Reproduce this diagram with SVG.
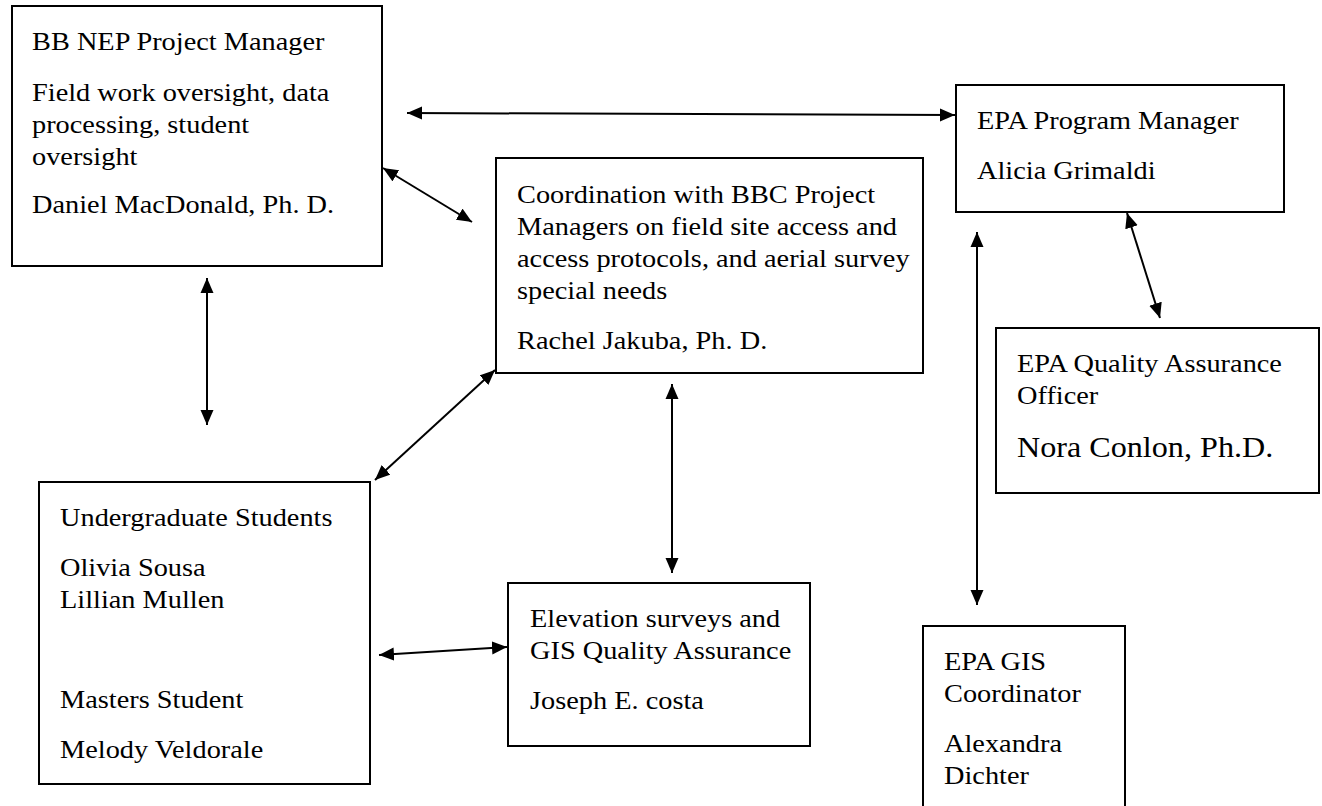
<svg xmlns="http://www.w3.org/2000/svg" width="1322" height="806" viewBox="0 0 1322 806">
<defs>
<style>
.box{fill:#fff;stroke:#000;stroke-width:2}
.t{font-family:"Liberation Serif","Times New Roman",serif;font-size:26px;fill:#000}
.big{font-size:29.5px}
.c{stroke:#000;stroke-width:2;fill:none;marker-start:url(#ah);marker-end:url(#ah)}
</style>
<marker id="ah" markerUnits="userSpaceOnUse" markerWidth="16" markerHeight="14" refX="15" refY="6.5" orient="auto-start-reverse" viewBox="0 0 16 13">
<path d="M0,0 L15,6.5 L0,13 z" fill="#000"/>
</marker>
</defs>
<rect width="1322" height="806" fill="#fff"/>

<g id="connectors">
<line class="c" x1="407" y1="113" x2="955" y2="115"/>
<line class="c" x1="383" y1="168" x2="472" y2="222"/>
<line class="c" x1="207" y1="278" x2="207" y2="425"/>
<line class="c" x1="495" y1="370" x2="375" y2="480"/>
<line class="c" x1="672" y1="384" x2="672" y2="573"/>
<line class="c" x1="379" y1="655" x2="507" y2="647"/>
<line class="c" x1="1127" y1="213" x2="1160" y2="318"/>
<line class="c" x1="977" y1="232" x2="977" y2="605"/>
</g>

<g id="bbnep">
<rect class="box" x="12" y="6" width="370" height="260"/>
<g transform="translate(32 0) scale(1.09 1)">
<text class="t" x="0" y="50">BB NEP Project Manager</text>
<text class="t" x="0" y="101">Field work oversight, data</text>
<text class="t" x="0" y="133">processing, student</text>
<text class="t" x="0" y="165">oversight</text>
<text class="t" x="0" y="213">Daniel MacDonald, Ph. D.</text>
</g>
</g>

<g id="coordination">
<rect class="box" x="496" y="158" width="427" height="215"/>
<g transform="translate(517 0) scale(1.09 1)">
<text class="t" x="0" y="203">Coordination with BBC Project</text>
<text class="t" x="0" y="235">Managers on field site access and</text>
<text class="t" x="0" y="267">access protocols, and aerial survey</text>
<text class="t" x="0" y="299">special needs</text>
<text class="t" x="0" y="349">Rachel Jakuba, Ph. D.</text>
</g>
</g>

<g id="epa-pm">
<rect class="box" x="956" y="85" width="328" height="127"/>
<g transform="translate(977 0) scale(1.09 1)">
<text class="t" x="0" y="129">EPA Program Manager</text>
<text class="t" x="0" y="179">Alicia Grimaldi</text>
</g>
</g>

<g id="epa-qa">
<rect class="box" x="996" y="328" width="323" height="165"/>
<g transform="translate(1017 0) scale(1.09 1)">
<text class="t" x="0" y="372">EPA Quality Assurance</text>
<text class="t" x="0" y="404">Officer</text>
<text class="t big" x="0" y="457">Nora Conlon, Ph.D.</text>
</g>
</g>

<g id="students">
<rect class="box" x="39" y="482" width="331" height="302"/>
<g transform="translate(60 0) scale(1.09 1)">
<text class="t" x="0" y="526">Undergraduate Students</text>
<text class="t" x="0" y="576">Olivia Sousa</text>
<text class="t" x="0" y="608">Lillian Mullen</text>
<text class="t" x="0" y="708">Masters Student</text>
<text class="t" x="0" y="758">Melody Veldorale</text>
</g>
</g>

<g id="elevation">
<rect class="box" x="508" y="583" width="302" height="163"/>
<g transform="translate(530 0) scale(1.09 1)">
<text class="t" x="0" y="627">Elevation surveys and</text>
<text class="t" x="0" y="659">GIS Quality Assurance</text>
<text class="t" x="0" y="709">Joseph E. costa</text>
</g>
</g>

<g id="epa-gis">
<rect class="box" x="923" y="626" width="202" height="200"/>
<g transform="translate(944 0) scale(1.09 1)">
<text class="t" x="0" y="670">EPA GIS</text>
<text class="t" x="0" y="702">Coordinator</text>
<text class="t" x="0" y="752">Alexandra</text>
<text class="t" x="0" y="784">Dichter</text>
</g>
</g>
</svg>
